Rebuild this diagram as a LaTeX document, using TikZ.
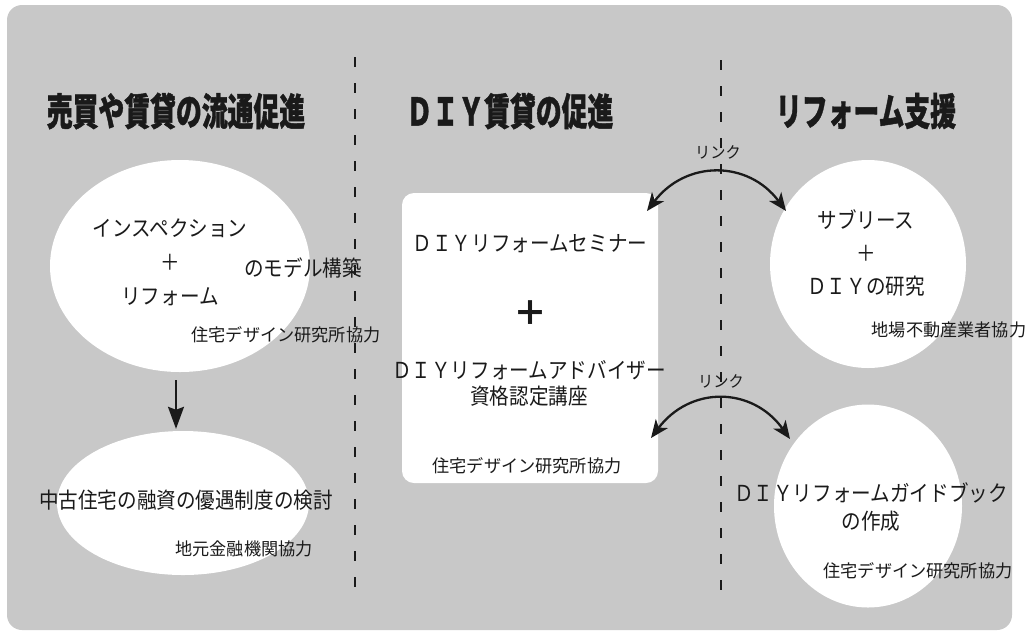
\documentclass[tikz,border=0pt]{standalone}
\usepackage{fontspec}
\setmainfont{Noto Sans CJK JP}
\newfontfamily\heavyjp{Noto Sans CJK JP}[BoldFeatures={FakeBold=1.3}]
\usetikzlibrary{arrows.meta,shapes.geometric}
\definecolor{bg}{HTML}{C8C8C8}
\definecolor{ink}{HTML}{1A1A1A}
\begin{document}
\begin{tikzpicture}[x=1pt,y=-1pt,
  title/.style={font=\fontsize{38}{40}\heavyjp\bfseries, text=ink, xscale=0.68, inner sep=0},
  body/.style={font=\fontsize{22}{34}\selectfont, text=ink, xscale=0.89, inner sep=0, align=center},
  small/.style={font=\fontsize{17.5}{20}\selectfont, text=ink, xscale=0.98, inner sep=0},
  linklabel/.style={font=\fontsize{16}{18}\selectfont, text=ink, xscale=0.95, inner sep=0},
  bigplus/.style={font=\fontsize{34}{36}\selectfont\bfseries, text=ink, inner sep=0},
  blob/.style={ellipse, fill=white, draw=none, inner sep=0},
  divider/.style={draw=ink, line width=1.3pt, dash pattern=on 10pt off 16pt},
  linkarrow/.style={draw=ink, line width=2.3pt, {Stealth[length=18pt,width=15pt,inset=5pt]}-{Stealth[length=18pt,width=15pt,inset=5pt]}},
  downarrow/.style={draw=ink, line width=2pt, -{Stealth[length=22pt,width=16pt,inset=3pt]}}
]
\useasboundingbox (0,0) rectangle (1032,633);
\fill[bg, rounded corners=15pt] (7,5) rectangle (1012,630);

% dividers
\coordinate (d1t) at (355,57); \coordinate (d1b) at (355,590);
\coordinate (d2t) at (721,60); \coordinate (d2b) at (721,592);
\draw[divider] (d1t) -- (d1b);
\draw[divider] (d2t) -- (d2b);

% titles
\node[title] (t1) at (176,111) {売買や賃貸の流通促進};
\node[title] (t2) at (510,111) {ＤＩＹ賃貸の促進};
\node[title] (t3) at (866,111) {リフォーム支援};

% left column
\node[blob, minimum width=260, minimum height=212] (e1) at (180,266) {};
\node[blob, minimum width=252, minimum height=144] (e2) at (183,503) {};
\node[body] (e1txt) at (170,262) {インスペクション\\＋\\リフォーム};
\node[body] (model) at (303,268) {のモデル構築};
\node[small] (e1c) at (286,335) {住宅デザイン研究所協力};
\node[body] (e2txt) at (186,500) {中古住宅の融資の優遇制度の検討};
\node[small] (e2c) at (244,549) {地元金融機関協力};
\draw[downarrow] ([xshift=-4pt,yshift=-8pt]e1.south) -- ([xshift=-7pt,yshift=2pt]e2.north);

% middle column
\node[fill=white, rounded corners=12pt, minimum width=256, minimum height=290, inner sep=0] (box) at (530,338) {};
\node[body] (sem) at (530,244) {ＤＩＹリフォームセミナー};
\node[bigplus] (plus) at (530,313) {＋};
\node[body, text depth=0pt] (adv) at (529,382) {ＤＩＹリフォームアドバイザー\\[-8pt]資格認定講座};
\node[small] (boxc) at (527,466) {住宅デザイン研究所協力};

% right column
\node[blob, minimum width=196, minimum height=208] (c1) at (868,264) {};
\node[blob, minimum width=188, minimum height=203] (c2) at (868,506) {};
\node[body, font=\fontsize{22}{33}\selectfont] (c1txt) at (866,253) {サブリース\\＋\\ＤＩＹの研究};
\node[small] (c1c) at (949,330) {地場不動産業者協力};
\node[body, font=\fontsize{22}{28}\selectfont] (c2txt) at (871,507) {ＤＩＹリフォームガイドブック\\の作成};
\node[small] (c2c) at (918,571) {住宅デザイン研究所協力};

% links
\node[linklabel] (lk1) at (718,152) {リンク};
\node[linklabel] (lk2) at (721,381) {リンク};
\coordinate (lk1a) at (647,211); \coordinate (lk1b) at (786,211);
\coordinate (lk2a) at (651,438); \coordinate (lk2b) at (790,439);
\draw[linkarrow] (lk1a) .. controls (686,160) and (748,160) .. (lk1b);
\draw[linkarrow] (lk2a) .. controls (690,386) and (752,386) .. (lk2b);
\end{tikzpicture}
\end{document}
